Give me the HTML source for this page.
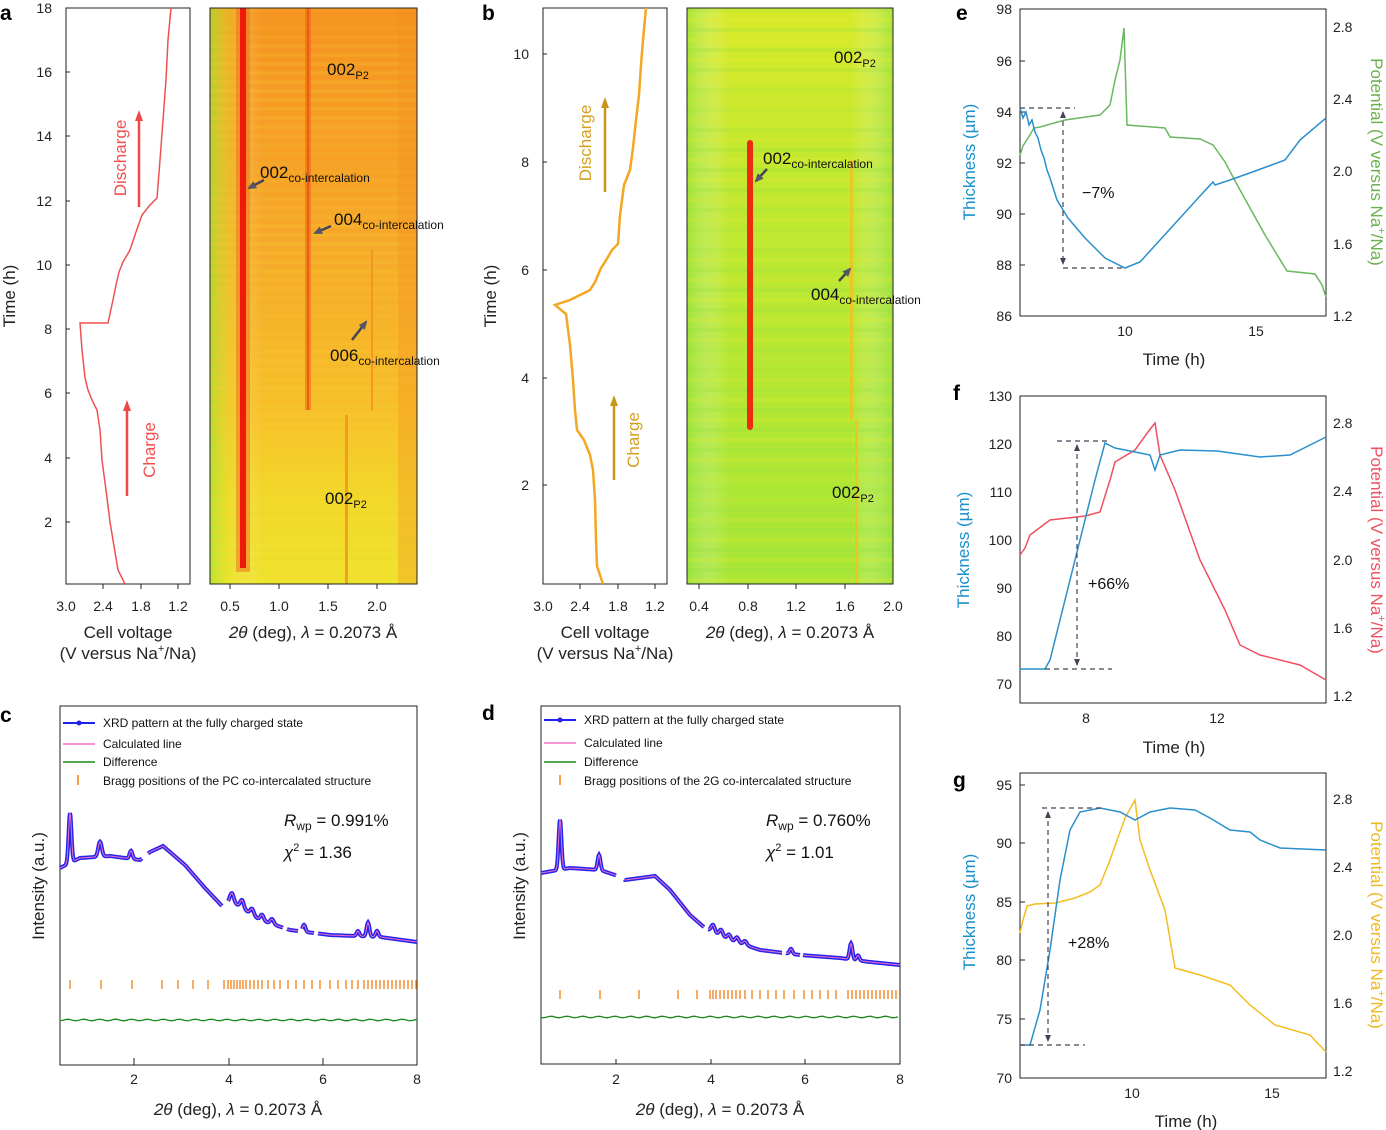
<!DOCTYPE html>
<html><head><meta charset="utf-8"><style>
body{margin:0;background:#fff}
svg{display:block;font-family:"Liberation Sans",sans-serif}
.t{font-size:14px;fill:#222}
.l{font-size:17px;fill:#222}
.p{font-size:21px;font-weight:bold;fill:#000}
.ax{fill:none;stroke:#222;stroke-width:1}
</style></head><body>
<svg id="s" width="1386" height="1130" viewBox="0 0 1386 1130" xmlns="http://www.w3.org/2000/svg">
<defs>
<linearGradient id="ga" x1="0" y1="0" x2="0" y2="1">
<stop offset="0" stop-color="#f59320"/><stop offset="0.4" stop-color="#f6a82a"/><stop offset="0.7" stop-color="#f7c02a"/><stop offset="0.85" stop-color="#f2d82a"/><stop offset="1" stop-color="#eee42e"/></linearGradient>
<linearGradient id="gah" x1="0" y1="0" x2="1" y2="0">
<stop offset="0" stop-color="#9be636" stop-opacity="0.7"/><stop offset="0.1" stop-color="#e0e830" stop-opacity="0.3"/><stop offset="0.25" stop-color="#fff" stop-opacity="0"/><stop offset="1" stop-color="#fff" stop-opacity="0"/></linearGradient>
<linearGradient id="gb" x1="0" y1="0" x2="0" y2="1">
<stop offset="0" stop-color="#d8ea2a"/><stop offset="0.3" stop-color="#c2e830"/><stop offset="1" stop-color="#a8e636"/></linearGradient>
<linearGradient id="gbh" x1="0" y1="0" x2="1" y2="0">
<stop offset="0" stop-color="#8fe03a" stop-opacity="0.6"/><stop offset="0.2" stop-color="#fff" stop-opacity="0"/><stop offset="0.8" stop-color="#fff" stop-opacity="0"/><stop offset="1" stop-color="#8fe03a" stop-opacity="0.6"/></linearGradient>
<marker id="ar" markerUnits="userSpaceOnUse" markerWidth="10" markerHeight="10" refX="7" refY="5" orient="auto"><path d="M0,1 L9,5 L0,9 z" fill="#556"/></marker>
<marker id="ad" markerUnits="userSpaceOnUse" markerWidth="8" markerHeight="8" refX="6" refY="4" orient="auto"><path d="M0,1 L7,4 L0,7 z" fill="#445"/></marker>
<marker id="ads" markerUnits="userSpaceOnUse" markerWidth="8" markerHeight="8" refX="1" refY="4" orient="auto"><path d="M7,1 L0,4 L7,7 z" fill="#445"/></marker>
</defs>

<!-- Panel a -->
<text class="p" x="0" y="20">a</text>
<rect class="ax" x="66" y="8" width="124" height="576"/>
<g class="t" text-anchor="end">
<text x="52" y="13">18</text><text x="52" y="77">16</text><text x="52" y="141">14</text><text x="52" y="206">12</text><text x="52" y="270">10</text><text x="52" y="334">8</text><text x="52" y="398">6</text><text x="52" y="463">4</text><text x="52" y="527">2</text></g>
<g stroke="#222"><line x1="66" y1="72" x2="70" y2="72"/><line x1="66" y1="136" x2="70" y2="136"/><line x1="66" y1="201" x2="70" y2="201"/><line x1="66" y1="265" x2="70" y2="265"/><line x1="66" y1="329" x2="70" y2="329"/><line x1="66" y1="393" x2="70" y2="393"/><line x1="66" y1="458" x2="70" y2="458"/><line x1="66" y1="522" x2="70" y2="522"/>
<line x1="103" y1="584" x2="103" y2="589"/><line x1="141" y1="584" x2="141" y2="589"/><line x1="178" y1="584" x2="178" y2="589"/></g>
<g class="t" text-anchor="middle"><text x="66" y="611">3.0</text><text x="103" y="611">2.4</text><text x="141" y="611">1.8</text><text x="178" y="611">1.2</text></g>
<text class="l" text-anchor="middle" x="128" y="638">Cell voltage</text>
<text class="l" text-anchor="middle" x="128" y="659">(V versus Na<tspan font-size="11" dy="-7">+</tspan><tspan dy="7">/Na)</tspan></text>
<text class="l" text-anchor="middle" transform="translate(15,296) rotate(-90)">Time (h)</text>
<polyline fill="none" stroke="#f05050" stroke-width="1.5" points="125,584 118,570 113,540 110,522 106,490 102,460 100,430 97,410 92,400 88,390 85,378 82,350 80,323 108,323 113,300 116,285 119,272 123,262 130,250 136,232 142,215 150,205 157,198 160,160 163,120 166,80 168,40 171,8"/>
<line x1="139" y1="207" x2="139" y2="118" stroke="#f04848" stroke-width="2.5"/><path d="M135,121 L139,110 L143,121z" fill="#f04848"/>
<text font-size="17" fill="#f05050" text-anchor="middle" transform="translate(126,158) rotate(-90)">Discharge</text>
<line x1="127" y1="496" x2="127" y2="408" stroke="#f04848" stroke-width="2.5"/><path d="M123,411 L127,400 L131,411z" fill="#f04848"/>
<text font-size="17" fill="#f05050" text-anchor="middle" transform="translate(155,450) rotate(-90)">Charge</text>

<!-- heatmap a -->
<rect x="210" y="8" width="207" height="576" fill="url(#ga)"/>
<rect x="210" y="8" width="207" height="576" fill="url(#gah)"/>
<g id="stripesA"></g>
<rect x="236" y="8" width="14" height="564" fill="#f26a18" opacity="0.5"/>
<rect x="240" y="8" width="6" height="560" fill="#f01a0a"/>
<rect x="305" y="8" width="6" height="402" fill="#ef6a14" opacity="0.6"/>
<rect x="307" y="8" width="2" height="402" fill="#ee4a10" opacity="0.7"/>
<rect x="371" y="250" width="2" height="160" fill="#f29020" opacity="0.8"/>
<rect x="345" y="415" width="3" height="169" fill="#f39020" opacity="0.8"/>
<rect x="398" y="8" width="19" height="576" fill="#f39020" opacity="0.35"/>
<rect class="ax" x="210" y="8" width="207" height="576"/>
<g stroke="#222"><line x1="230" y1="584" x2="230" y2="589"/><line x1="279" y1="584" x2="279" y2="589"/><line x1="328" y1="584" x2="328" y2="589"/><line x1="377" y1="584" x2="377" y2="589"/></g>
<g class="t" text-anchor="middle"><text x="230" y="611">0.5</text><text x="279" y="611">1.0</text><text x="328" y="611">1.5</text><text x="377" y="611">2.0</text></g>
<text class="l" text-anchor="middle" x="313" y="638"><tspan font-style="italic">2θ</tspan> (deg), <tspan font-style="italic">λ</tspan> = 0.2073 Å</text>
<g font-size="17" fill="#111">
<text x="327" y="75">002<tspan font-size="11" dy="4">P2</tspan></text>
<text x="260" y="178">002<tspan font-size="12" dy="4">co-intercalation</tspan></text>
<text x="334" y="225">004<tspan font-size="12" dy="4">co-intercalation</tspan></text>
<text x="330" y="361">006<tspan font-size="12" dy="4">co-intercalation</tspan></text>
<text x="325" y="504">002<tspan font-size="11" dy="4">P2</tspan></text></g>
<g stroke="#445" stroke-width="2.5" marker-end="url(#ar)"><line x1="264" y1="180" x2="249" y2="188"/><line x1="331" y1="226" x2="315" y2="233"/><line x1="352" y1="340" x2="366" y2="322"/></g>

<!-- Panel b -->
<text class="p" x="482" y="20">b</text>
<rect class="ax" x="543" y="8" width="124" height="576"/>
<g class="t" text-anchor="end"><text x="529" y="59">10</text><text x="529" y="167">8</text><text x="529" y="275">6</text><text x="529" y="383">4</text><text x="529" y="490">2</text></g>
<g stroke="#222"><line x1="543" y1="54" x2="547" y2="54"/><line x1="543" y1="162" x2="547" y2="162"/><line x1="543" y1="270" x2="547" y2="270"/><line x1="543" y1="378" x2="547" y2="378"/><line x1="543" y1="485" x2="547" y2="485"/>
<line x1="580" y1="584" x2="580" y2="589"/><line x1="618" y1="584" x2="618" y2="589"/><line x1="655" y1="584" x2="655" y2="589"/></g>
<g class="t" text-anchor="middle"><text x="543" y="611">3.0</text><text x="580" y="611">2.4</text><text x="618" y="611">1.8</text><text x="655" y="611">1.2</text></g>
<text class="l" text-anchor="middle" x="605" y="638">Cell voltage</text>
<text class="l" text-anchor="middle" x="605" y="659">(V versus Na<tspan font-size="11" dy="-7">+</tspan><tspan dy="7">/Na)</tspan></text>
<text class="l" text-anchor="middle" transform="translate(496,296) rotate(-90)">Time (h)</text>
<polyline fill="none" stroke="#f5a623" stroke-width="2.5" points="603,584 600,575 597,566 596,540 595,500 593,470 590,455 584,440 577,430 575,410 573,380 570,345 566,314 555,305 570,300 580,295 590,290 595,282 601,268 605,262 612,250 618,244 620,215 624,185 630,170 633,148 636,120 639,95 641,65 643,40 646,8"/>
<line x1="605" y1="192" x2="605" y2="105" stroke="#c8961a" stroke-width="2.5"/><path d="M601,108 L605,97 L609,108z" fill="#c8961a"/>
<text font-size="17" fill="#d4a020" text-anchor="middle" transform="translate(591,143) rotate(-90)">Discharge</text>
<line x1="614" y1="480" x2="614" y2="403" stroke="#c8961a" stroke-width="2.5"/><path d="M610,406 L614,395 L618,406z" fill="#c8961a"/>
<text font-size="17" fill="#d4a020" text-anchor="middle" transform="translate(639,440) rotate(-90)">Charge</text>

<rect x="687" y="8" width="206" height="576" fill="url(#gb)"/>
<rect x="687" y="8" width="206" height="576" fill="url(#gbh)"/>
<g id="stripesB"></g>
<rect x="747" y="140" width="6" height="290" rx="3" fill="#f02a10"/>
<rect x="850" y="160" width="3" height="260" fill="#f2c020" opacity="0.8"/>
<rect x="855" y="420" width="3" height="164" fill="#f2c020" opacity="0.8"/>
<rect class="ax" x="687" y="8" width="206" height="576"/>
<g stroke="#222"><line x1="699" y1="584" x2="699" y2="589"/><line x1="748" y1="584" x2="748" y2="589"/><line x1="796" y1="584" x2="796" y2="589"/><line x1="845" y1="584" x2="845" y2="589"/></g>
<g class="t" text-anchor="middle"><text x="699" y="611">0.4</text><text x="748" y="611">0.8</text><text x="796" y="611">1.2</text><text x="845" y="611">1.6</text><text x="893" y="611">2.0</text></g>
<text class="l" text-anchor="middle" x="790" y="638"><tspan font-style="italic">2θ</tspan> (deg), <tspan font-style="italic">λ</tspan> = 0.2073 Å</text>
<g font-size="17" fill="#111">
<text x="834" y="63">002<tspan font-size="11" dy="4">P2</tspan></text>
<text x="763" y="164">002<tspan font-size="12" dy="4">co-intercalation</tspan></text>
<text x="811" y="300">004<tspan font-size="12" dy="4">co-intercalation</tspan></text>
<text x="832" y="498">002<tspan font-size="11" dy="4">P2</tspan></text></g>
<g stroke="#445" stroke-width="2.5" marker-end="url(#ar)"><line x1="767" y1="169" x2="756" y2="181"/><line x1="839" y1="281" x2="850" y2="269"/></g>

<!-- Panel c -->
<text class="p" x="0" y="722">c</text>
<rect class="ax" x="60" y="706" width="357" height="359"/>
<g stroke="#222"><line x1="134" y1="1065" x2="134" y2="1058"/><line x1="229" y1="1065" x2="229" y2="1058"/><line x1="323" y1="1065" x2="323" y2="1058"/></g>
<g class="t" text-anchor="middle"><text x="134" y="1084">2</text><text x="229" y="1084">4</text><text x="323" y="1084">6</text><text x="417" y="1084">8</text></g>
<text class="l" text-anchor="middle" x="238" y="1115"><tspan font-style="italic">2θ</tspan> (deg), <tspan font-style="italic">λ</tspan> = 0.2073 Å</text>
<text class="l" text-anchor="middle" transform="translate(44,886) rotate(-90)">Intensity (a.u.)</text>
<g font-size="12" fill="#111">
<line x1="63" y1="723" x2="95" y2="723" stroke="#2020f0" stroke-width="2"/><circle cx="79" cy="723" r="2.5" fill="#2020f0"/><text x="103" y="727">XRD pattern at the fully charged state</text>
<line x1="63" y1="744" x2="95" y2="744" stroke="#f070c8" stroke-width="1.5"/><text x="103" y="748">Calculated line</text>
<line x1="63" y1="762" x2="95" y2="762" stroke="#1a8a1a" stroke-width="1.5"/><text x="103" y="766">Difference</text>
<line x1="78" y1="775" x2="78" y2="785" stroke="#f08010" stroke-width="1.5"/><text x="103" y="785">Bragg positions of the PC co-intercalated structure</text></g>
<text font-size="17" x="284" y="826" fill="#111"><tspan font-style="italic">R</tspan><tspan font-size="12" dy="4">wp</tspan><tspan dy="-4"> = 0.991%</tspan></text>
<text font-size="17" x="284" y="858" fill="#111"><tspan font-style="italic">χ</tspan><tspan font-size="11" dy="-7">2</tspan><tspan dy="7"> = 1.36</tspan></text>
<g id="xc"></g>

<!-- Panel d -->
<text class="p" x="482" y="720">d</text>
<rect class="ax" x="541" y="706" width="359" height="358"/>
<g stroke="#222"><line x1="616" y1="1064" x2="616" y2="1059"/><line x1="711" y1="1064" x2="711" y2="1059"/><line x1="805" y1="1064" x2="805" y2="1059"/></g>
<g class="t" text-anchor="middle"><text x="616" y="1084">2</text><text x="711" y="1084">4</text><text x="805" y="1084">6</text><text x="900" y="1084">8</text></g>
<text class="l" text-anchor="middle" x="720" y="1115"><tspan font-style="italic">2θ</tspan> (deg), <tspan font-style="italic">λ</tspan> = 0.2073 Å</text>
<text class="l" text-anchor="middle" transform="translate(525,886) rotate(-90)">Intensity (a.u.)</text>
<g font-size="12" fill="#111">
<line x1="544" y1="720" x2="576" y2="720" stroke="#2020f0" stroke-width="2"/><circle cx="560" cy="720" r="2.5" fill="#2020f0"/><text x="584" y="724">XRD pattern at the fully charged state</text>
<line x1="544" y1="743" x2="576" y2="743" stroke="#f070c8" stroke-width="1.5"/><text x="584" y="747">Calculated line</text>
<line x1="544" y1="762" x2="576" y2="762" stroke="#1a8a1a" stroke-width="1.5"/><text x="584" y="766">Difference</text>
<line x1="560" y1="775" x2="560" y2="785" stroke="#f08010" stroke-width="1.5"/><text x="584" y="785">Bragg positions of the 2G co-intercalated structure</text></g>
<text font-size="17" x="766" y="826" fill="#111"><tspan font-style="italic">R</tspan><tspan font-size="12" dy="4">wp</tspan><tspan dy="-4"> = 0.760%</tspan></text>
<text font-size="17" x="766" y="858" fill="#111"><tspan font-style="italic">χ</tspan><tspan font-size="11" dy="-7">2</tspan><tspan dy="7"> = 1.01</tspan></text>
<g id="xd"></g>

<!-- Panel e -->
<text class="p" x="956" y="20">e</text>
<rect class="ax" x="1020" y="9" width="306" height="307"/>
<g class="t" text-anchor="end"><text x="1012" y="14">98</text><text x="1012" y="66">96</text><text x="1012" y="117">94</text><text x="1012" y="168">92</text><text x="1012" y="219">90</text><text x="1012" y="270">88</text><text x="1012" y="321">86</text></g>
<g stroke="#222"><line x1="1020" y1="61" x2="1025" y2="61"/><line x1="1020" y1="112" x2="1025" y2="112"/><line x1="1020" y1="163" x2="1025" y2="163"/><line x1="1020" y1="214" x2="1025" y2="214"/><line x1="1020" y1="265" x2="1025" y2="265"/></g>
<g class="t"><text x="1333" y="32">2.8</text><text x="1333" y="104">2.4</text><text x="1333" y="176">2.0</text><text x="1333" y="249">1.6</text><text x="1333" y="321">1.2</text></g>
<g class="t" text-anchor="middle"><text x="1125" y="336">10</text><text x="1256" y="336">15</text></g>
<text class="l" text-anchor="middle" x="1174" y="365">Time (h)</text>
<text font-size="17" fill="#1a8fc8" text-anchor="middle" transform="translate(975,162) rotate(-90)">Thickness (µm)</text>
<text font-size="17" fill="#6ab04c" text-anchor="middle" transform="translate(1371,162) rotate(90)">Potential (V versus Na<tspan font-size="11" dy="-7">+</tspan><tspan dy="7">/Na)</tspan></text>
<polyline fill="none" stroke="#6ab860" stroke-width="1.5" points="1020,155 1023,146 1028,138 1034,128 1040,127 1065,120 1100,115 1110,105 1115,80 1120,60 1124,28 1127,125 1165,128 1170,137 1200,139 1213,145 1225,162 1240,190 1265,235 1287,271 1315,274 1322,285 1326,297"/>
<polyline fill="none" stroke="#2a8fcc" stroke-width="1.5" points="1020,108 1023,118 1026,112 1029,125 1032,120 1035,132 1038,138 1041,150 1044,158 1047,170 1050,178 1057,200 1068,218 1085,238 1105,258 1125,268 1140,262 1160,240 1180,218 1200,196 1213,182 1215,185 1230,180 1258,170 1285,160 1300,140 1326,118"/>
<g stroke="#445" stroke-width="1.2" stroke-dasharray="5,4" fill="none"><line x1="1020" y1="108" x2="1075" y2="108"/><line x1="1063" y1="268" x2="1125" y2="268"/></g>
<line x1="1063" y1="112" x2="1063" y2="264" stroke="#445" stroke-width="1.2" stroke-dasharray="5,4" marker-start="url(#ads)" marker-end="url(#ad)"/>
<text font-size="16" x="1082" y="198" fill="#111">−7%</text>

<!-- Panel f -->
<text class="p" x="953" y="400">f</text>
<rect class="ax" x="1020" y="396" width="306" height="307"/>
<g class="t" text-anchor="end"><text x="1012" y="401">130</text><text x="1012" y="449">120</text><text x="1012" y="497">110</text><text x="1012" y="545">100</text><text x="1012" y="593">90</text><text x="1012" y="641">80</text><text x="1012" y="689">70</text></g>
<g class="t"><text x="1333" y="428">2.8</text><text x="1333" y="496">2.4</text><text x="1333" y="565">2.0</text><text x="1333" y="633">1.6</text><text x="1333" y="701">1.2</text></g>
<g class="t" text-anchor="middle"><text x="1086" y="723">8</text><text x="1217" y="723">12</text></g>
<text class="l" text-anchor="middle" x="1174" y="753">Time (h)</text>
<text font-size="17" fill="#1a8fc8" text-anchor="middle" transform="translate(969,550) rotate(-90)">Thickness (µm)</text>
<text font-size="17" fill="#f05060" text-anchor="middle" transform="translate(1371,550) rotate(90)">Potential (V versus Na<tspan font-size="11" dy="-7">+</tspan><tspan dy="7">/Na)</tspan></text>
<polyline fill="none" stroke="#f05060" stroke-width="1.5" points="1020,555 1025,548 1030,535 1050,520 1085,516 1100,512 1110,480 1115,462 1135,450 1148,432 1155,423 1160,455 1175,490 1200,560 1225,610 1240,645 1260,655 1300,665 1326,680"/>
<polyline fill="none" stroke="#2a8fcc" stroke-width="1.5" points="1020,669 1045,669 1050,660 1060,620 1080,540 1095,480 1105,443 1115,448 1140,453 1150,455 1155,470 1160,455 1180,450 1217,451 1260,457 1290,455 1326,437"/>
<g stroke="#445" stroke-width="1.2" stroke-dasharray="5,4" fill="none"><line x1="1057" y1="441" x2="1110" y2="441"/><line x1="1045" y1="669" x2="1112" y2="669"/></g>
<line x1="1077" y1="445" x2="1077" y2="665" stroke="#445" stroke-width="1.2" stroke-dasharray="5,4" marker-start="url(#ads)" marker-end="url(#ad)"/>
<text font-size="16" x="1088" y="589" fill="#111">+66%</text>

<!-- Panel g -->
<text class="p" x="953" y="787">g</text>
<rect class="ax" x="1020" y="773" width="306" height="305"/>
<g class="t" text-anchor="end"><text x="1012" y="790">95</text><text x="1012" y="848">90</text><text x="1012" y="907">85</text><text x="1012" y="965">80</text><text x="1012" y="1024">75</text><text x="1012" y="1083">70</text></g>
<g stroke="#222"><line x1="1020" y1="785" x2="1025" y2="785"/><line x1="1020" y1="843" x2="1025" y2="843"/><line x1="1020" y1="902" x2="1025" y2="902"/><line x1="1020" y1="960" x2="1025" y2="960"/><line x1="1020" y1="1019" x2="1025" y2="1019"/></g>
<g class="t"><text x="1333" y="804">2.8</text><text x="1333" y="872">2.4</text><text x="1333" y="940">2.0</text><text x="1333" y="1008">1.6</text><text x="1333" y="1076">1.2</text></g>
<g class="t" text-anchor="middle"><text x="1132" y="1098">10</text><text x="1272" y="1098">15</text></g>
<text class="l" text-anchor="middle" x="1186" y="1127">Time (h)</text>
<text font-size="17" fill="#1a8fc8" text-anchor="middle" transform="translate(975,912) rotate(-90)">Thickness (µm)</text>
<text font-size="17" fill="#f0b820" text-anchor="middle" transform="translate(1371,925) rotate(90)">Potential (V versus Na<tspan font-size="11" dy="-7">+</tspan><tspan dy="7">/Na)</tspan></text>
<polyline fill="none" stroke="#f5bc20" stroke-width="1.5" points="1020,933 1023,920 1027,906 1035,904 1055,903 1075,898 1090,892 1100,885 1110,860 1125,818 1135,800 1140,840 1150,870 1165,910 1175,968 1200,975 1230,985 1250,1005 1275,1025 1310,1035 1326,1052"/>
<polyline fill="none" stroke="#2a8fcc" stroke-width="1.5" points="1020,1045 1030,1045 1040,1010 1050,950 1060,880 1070,830 1080,812 1100,808 1120,812 1135,820 1150,812 1170,808 1195,810 1210,818 1230,830 1250,832 1260,840 1280,848 1326,850"/>
<g stroke="#445" stroke-width="1.2" stroke-dasharray="5,4" fill="none"><line x1="1042" y1="808" x2="1105" y2="808"/><line x1="1020" y1="1045" x2="1085" y2="1045"/></g>
<line x1="1048" y1="812" x2="1048" y2="1041" stroke="#445" stroke-width="1.2" stroke-dasharray="5,4" marker-start="url(#ads)" marker-end="url(#ad)"/>
<text font-size="16" x="1068" y="948" fill="#111">+28%</text>
</svg>
<script>
var NS="http://www.w3.org/2000/svg";
function el(p,t,a){var e=document.createElementNS(NS,t);for(var k in a)e.setAttribute(k,a[k]);p.appendChild(e);return e;}
(function(){var g=document.getElementById("stripesA");for(var y=8;y<580;y+=9){var o=0.08+0.14*Math.abs(Math.sin(y*0.37));el(g,"rect",{x:210,y:y,width:207,height:4,fill:(y%3?"#f8d030":"#f08a20"),opacity:o});}
var g2=document.getElementById("stripesB");for(var y=8;y<580;y+=10){var o=0.1+0.15*Math.abs(Math.sin(y*0.29));el(g2,"rect",{x:687,y:y,width:206,height:4,fill:(y%4?"#e8ea30":"#90e040"),opacity:o});}})();
function interp(pts,x){for(var i=0;i<pts.length-1;i++){if(x>=pts[i][0]&&x<=pts[i+1][0]){var t=(x-pts[i][0])/(pts[i+1][0]-pts[i][0]);return pts[i][1]+t*(pts[i+1][1]-pts[i][1]);}}return pts[pts.length-1][1];}
function xrd(id,x0,x1,base,peaks,gaps,bragg,by,dy){
var g=document.getElementById(id);var segs=[],cur=[];
for(var x=x0;x<=x1;x+=0.5){var gap=gaps.some(function(r){return x>r[0]&&x<r[1];});if(gap){if(cur.length)segs.push(cur);cur=[];continue;}
var y=interp(base,x);peaks.forEach(function(p){y-=p[1]*Math.exp(-Math.pow((x-p[0])/p[2],2));});cur.push(x.toFixed(1)+","+y.toFixed(1));}
if(cur.length)segs.push(cur);
segs.forEach(function(s){el(g,"polyline",{points:s.join(" "),fill:"none",stroke:"#2424ee","stroke-width":4});});
segs.forEach(function(s){el(g,"polyline",{points:s.join(" "),fill:"none",stroke:"#f070c8","stroke-width":1});});
bragg.forEach(function(b){el(g,"line",{x1:b,x2:b,y1:by,y2:by+9,stroke:"#f08010","stroke-width":1.3});});
var d=[];for(var x=x0;x<=x1;x+=3){d.push(x+","+(dy+Math.sin(x*1.7)*0.8));}
el(g,"polyline",{points:d.join(" "),fill:"none",stroke:"#1a8a1a","stroke-width":1.3});}
var bc=[70,101,132,162,178,193,208,224,228,231,234,237,240,243,246,250,254,258,262,268,274,280,288,296,304,312,320,330,338,346,352,358,364,368,372,376,380,384,388,392,396,400,404,408,412,416];
xrd("xc",60,417,[[60,868],[80,858],[110,856],[140,860],[150,852],[163,846],[185,865],[205,888],[222,906],[230,900],[260,920],[290,930],[330,935],[380,937],[417,942]],
[[70,50,2],[100,15,2.5],[131,8,2],[232,8,2.5],[242,8,2.5],[252,6,2.5],[262,6,2.5],[272,5,2.5],[304,7,2],[358,5,2],[368,14,2],[377,6,2]],[[142,148],[222,228],[283,287],[298,302],[314,318]],bc,980,1020);
var bd=[560,600,639,678,697,710,713,716,720,724,728,732,736,740,745,752,760,768,776,784,794,804,812,820,828,836,848,852,856,860,864,868,872,876,880,884,888,892,896];
xrd("xd",541,900,[[541,873],[570,868],[600,870],[615,875],[625,880],[640,878],[655,876],[670,890],[690,915],[705,928],[730,940],[760,950],[800,955],[840,958],[870,962],[900,965]],
[[560,50,2],[599,15,2],[713,7,2.5],[721,6,2.5],[729,5,2.5],[737,5,2.5],[745,4,2.5],[791,5,2],[851,16,2],[858,5,2]],[[616,624],[704,708],[782,786],[800,803]],bd,990,1017);
</script>
</body></html>
